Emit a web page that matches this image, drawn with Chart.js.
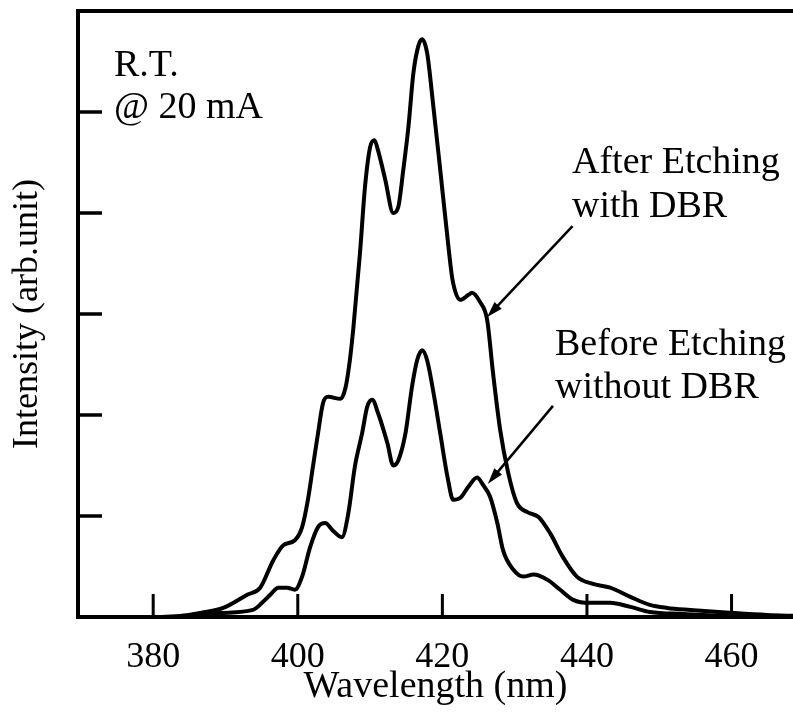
<!DOCTYPE html>
<html>
<head>
<meta charset="utf-8">
<title>EL spectrum</title>
<script src="https://cdn.jsdelivr.net/npm/chart.js@4.4.0/dist/chart.umd.min.js"></script>
<style>
    html, body { margin: 0; padding: 0; background: #fff; }
    #wrap { width: 793px; height: 716px; }
</style>
</head>
<body>
<div id="wrap"><canvas id="spectrum" width="793" height="716"></canvas></div>
<script>
// ================= DATA =================
const xTickValues = [380, 400, 420, 440, 460];
const yTickValues = [1, 2, 3, 4, 5];

// After etching, with DBR (upper curve)
const afterWavelength = [375, 380, 383.7, 386.5, 389.7, 393.0, 394.8, 396.6, 398.0, 399.6, 400.6, 401.4, 402.1,
    402.8, 403.5, 404.2, 405.9, 406.6, 407.2, 407.7, 408.6, 409.3, 410.0, 410.6, 411.1, 412.1, 413.2, 413.9,
    414.6, 415.3, 416.0, 416.7, 417.2, 417.9, 418.7, 419.7, 420.7, 421.4, 422.5, 423.6, 424.1, 425.2, 426.2,
    427.0, 428.0, 429.1, 430.3, 431.7, 433.3, 434.9, 436.7, 438.6, 440.7, 443.2, 446.0, 448.7, 451.1, 454.3,
    460.2, 464.9, 469];
const afterIntensity = [0, 0, 0.01, 0.04, 0.09, 0.22, 0.29, 0.56, 0.71, 0.76, 0.89, 1.16, 1.49,
    1.82, 2.12, 2.18, 2.16, 2.27, 2.54, 2.87, 3.60, 4.26, 4.65, 4.72, 4.62, 4.33, 4.00, 4.06,
    4.43, 4.85, 5.39, 5.66, 5.72, 5.58, 5.09, 4.43, 3.76, 3.34, 3.14, 3.19, 3.21, 3.12, 2.94,
    2.42, 1.85, 1.43, 1.13, 1.04, 0.99, 0.83, 0.59, 0.40, 0.33, 0.29, 0.20, 0.12, 0.09, 0.07,
    0.04, 0.02, 0.01];

// Before etching, without DBR (lower curve)
const beforeWavelength = [375, 380, 385.1, 389.3, 393.8, 395.2, 396.2, 397.3, 398.5, 399.6, 400.6, 401.7, 402.8,
    403.8, 404.8, 406.1, 407.0, 407.9, 408.9, 409.6, 410.3, 411.1, 412.4, 413.2, 413.9, 414.9, 415.8, 416.5,
    417.2, 417.9, 418.7, 419.7, 420.7, 421.5, 422.5, 423.6, 424.8, 425.6, 426.6, 427.6, 428.4, 429.8, 431.2,
    432.6, 434.5, 436.3, 438.1, 440.4, 443.2, 446.0, 448.7, 453.3, 459.8, 469];
const beforeIntensity = [0, 0, 0.01, 0.04, 0.07, 0.15, 0.22, 0.29, 0.29, 0.27, 0.40, 0.69, 0.89,
    0.93, 0.86, 0.79, 1.03, 1.49, 1.82, 2.08, 2.15, 2.02, 1.72, 1.50, 1.55, 1.82, 2.28, 2.54,
    2.64, 2.54, 2.25, 1.82, 1.39, 1.16, 1.18, 1.29, 1.38, 1.31, 1.19, 0.93, 0.66, 0.47, 0.40,
    0.42, 0.37, 0.27, 0.17, 0.14, 0.14, 0.10, 0.05, 0.03, 0.01, 0];

// ================= STYLE =================
const SERIF = "'Liberation Serif', 'DejaVu Serif', serif";
const INK = "#000";

function toPoints(xs, ys) {
    return xs.map((x, i) => ({ x: x, y: ys[i] }));
}

// arrow: tail and tip given in data units
function drawArrow(ctx, xs, ys, tail, tip) {
    const x0 = xs.getPixelForValue(tail[0]), y0 = ys.getPixelForValue(tail[1]);
    const x1 = xs.getPixelForValue(tip[0]), y1 = ys.getPixelForValue(tip[1]);
    const a = Math.atan2(y1 - y0, x1 - x0);
    const len = 16, half = 5;
    ctx.strokeStyle = INK;
    ctx.fillStyle = INK;
    ctx.lineWidth = 2.5;
    ctx.beginPath();
    ctx.moveTo(x0, y0);
    ctx.lineTo(x1 - Math.cos(a) * len * 0.8, y1 - Math.sin(a) * len * 0.8);
    ctx.stroke();
    ctx.beginPath();
    ctx.moveTo(x1, y1);
    ctx.lineTo(x1 - Math.cos(a) * len - Math.sin(a) * half, y1 - Math.sin(a) * len + Math.cos(a) * half);
    ctx.lineTo(x1 - Math.cos(a) * len + Math.sin(a) * half, y1 - Math.sin(a) * len - Math.cos(a) * half);
    ctx.closePath();
    ctx.fill();
}

// ================= FRAME, INNER TICKS, LABELS =================
const framePlugin = {
    id: "frame",
    afterDraw(chart) {
        const { ctx, chartArea: area, scales } = chart;
        const xs = scales.x, ys = scales.y;
        ctx.save();

        // top border
        ctx.strokeStyle = INK;
        ctx.lineWidth = 4;
        ctx.beginPath();
        ctx.moveTo(area.left - 2, area.top);
        ctx.lineTo(area.right, area.top);
        ctx.stroke();

        // inward ticks
        ctx.lineWidth = 3.5;
        yTickValues.forEach(v => {
            const y = ys.getPixelForValue(v);
            ctx.beginPath();
            ctx.moveTo(area.left, y);
            ctx.lineTo(area.left + 24, y);
            ctx.stroke();
        });
        ctx.lineWidth = 3;
        xTickValues.forEach(v => {
            const x = xs.getPixelForValue(v);
            ctx.beginPath();
            ctx.moveTo(x, area.bottom);
            ctx.lineTo(x, area.bottom - 23);
            ctx.stroke();
        });

        // text annotations
        ctx.fillStyle = INK;
        ctx.font = "38px " + SERIF;
        ctx.textAlign = "left";
        ctx.textBaseline = "alphabetic";
        ctx.fillText("R.T.", 114, 76);
        ctx.fillText("@ 20 mA", 114, 118);
        ctx.fillText("After Etching", 572, 173);
        ctx.fillText("with DBR", 572, 217);
        ctx.fillText("Before Etching", 555, 355);
        ctx.fillText("without DBR", 555, 398);

        drawArrow(ctx, xs, ys, [438.0, 3.87], [426.2, 2.97]);
        drawArrow(ctx, xs, ys, [435.3, 2.09], [426.3, 1.32]);

        ctx.restore();
    }
};

// ================= CHART =================
new Chart(document.getElementById("spectrum"), {
    type: "line",
    data: {
        datasets: [
            {
                label: "After Etching with DBR",
                data: toPoints(afterWavelength, afterIntensity),
                borderColor: INK,
                borderWidth: 4,
                pointRadius: 0,
                fill: false,
                cubicInterpolationMode: "monotone"
            },
            {
                label: "Before Etching without DBR",
                data: toPoints(beforeWavelength, beforeIntensity),
                borderColor: INK,
                borderWidth: 4,
                pointRadius: 0,
                fill: false,
                cubicInterpolationMode: "monotone"
            }
        ]
    },
    options: {
        responsive: false,
        animation: false,
        layout: { padding: { top: 11, right: 0, bottom: 0, left: 0 } },
        plugins: {
            legend: { display: false },
            tooltip: { enabled: false }
        },
        scales: {
            x: {
                type: "linear",
                min: 369.6,
                max: 468.5,
                afterBuildTicks: scale => { scale.ticks = xTickValues.map(v => ({ value: v })); },
                afterFit: scale => { scale.height = 99; },
                grid: { display: false, drawTicks: false },
                border: { display: true, color: INK, width: 4 },
                ticks: {
                    color: INK,
                    font: { family: SERIF, size: 36 },
                    padding: 19,
                    maxRotation: 0,
                    callback: v => String(v)
                },
                title: {
                    display: true,
                    text: "Wavelength (nm)",
                    color: INK,
                    font: { family: SERIF, size: 38 },
                    padding: { top: 0, bottom: 6 }
                }
            },
            y: {
                min: 0,
                max: 6,
                afterBuildTicks: scale => { scale.ticks = yTickValues.map(v => ({ value: v })); },
                afterFit: scale => { scale.width = 78; },
                grid: { display: false, drawTicks: false },
                border: { display: true, color: INK, width: 4 },
                ticks: { display: false },
                title: {
                    display: true,
                    text: "Intensity (arb.unit)",
                    color: INK,
                    font: { family: SERIF, size: 36 },
                    padding: { top: 6, bottom: 0 }
                }
            }
        }
    },
    plugins: [framePlugin]
});
</script>
</body>
</html>
